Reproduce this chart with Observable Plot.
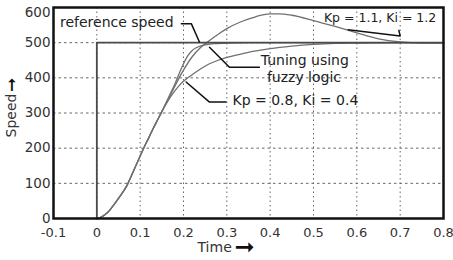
<!DOCTYPE html>
<html>
<head>
<meta charset="utf-8">
<script src="https://cdn.jsdelivr.net/npm/d3@7"></script>
<script src="https://cdn.jsdelivr.net/npm/@observablehq/plot@0.6"></script>
<style>
  html, body { margin: 0; padding: 0; background: white; }
</style>
</head>
<body>
<div id="chart"></div>
<script>
// ---- data ----
const xTicks = [-0.1, 0, 0.1, 0.2, 0.3, 0.4, 0.5, 0.6, 0.7, 0.8];
const yTicks = [0, 100, 200, 300, 400, 500, 600];

const refTime  = [0, 0, 0.8];
const refSpeed = [0, 500, 500];

const riseTime  = [0, 0.01, 0.02, 0.03, 0.04, 0.05, 0.06, 0.07, 0.08, 0.09, 0.10, 0.11, 0.12, 0.13, 0.14, 0.15];
const riseSpeed = [0, 4, 12, 24, 40, 57, 75, 95, 122, 150, 178, 205, 230, 256, 280, 304];

const fuzzyTime  = [0.16, 0.17, 0.18, 0.19, 0.20, 0.21, 0.22, 0.23, 0.24, 0.25, 0.27, 0.30, 0.35, 0.8];
const fuzzySpeed = [330, 356, 382, 412, 440, 463, 478, 486, 491, 494, 497, 499, 500, 500];

const k11Time  = [0.16, 0.17, 0.18, 0.19, 0.20, 0.22, 0.24, 0.26, 0.28, 0.30, 0.33, 0.36, 0.38, 0.40, 0.42, 0.45, 0.50, 0.55, 0.60, 0.65, 0.70, 0.75, 0.80];
const k11Speed = [328, 352, 376, 400, 422, 460, 487, 506, 524, 540, 558, 571, 578, 582, 582, 578, 563, 546, 528, 511, 502, 499, 499];

const k08Time  = [0.16, 0.17, 0.18, 0.19, 0.20, 0.21, 0.22, 0.24, 0.26, 0.28, 0.30, 0.33, 0.36, 0.40, 0.45, 0.50, 0.55, 0.60, 0.70, 0.80];
const k08Speed = [326, 346, 363, 378, 390, 400, 409, 426, 440, 450, 458, 467, 475, 483, 490, 495, 498, 499, 500, 500];

// annotation labels and leader lines (data units)
const labelText  = ["reference speed", "Tuning using", "fuzzy logic", "Kp = 0.8, Ki = 0.4"];
const labelTime  = [-0.085, 0.480, 0.478, 0.313];
const labelSpeed = [557, 449, 401, 335];
const labelAlign = ["start", "middle", "middle", "start"];
const k11Label = {text: "Kp = 1.1, Ki = 1.2", t: 0.524, s: 570};

const leaderId    = ["ref","ref","ref", "fz","fz","fz", "k08","k08","k08", "k11","k11","k11"];
const leaderTime  = [0.195, 0.218, 0.237, 0.26, 0.306, 0.375, 0.206, 0.26, 0.298, 0.58, 0.70, 0.697];
const leaderSpeed = [554, 554, 501, 487, 430, 430, 388, 331, 331, 537, 519, 535];

// ---- build tables ----
const zip = (ts, ss) => ts.map((t, i) => ({t, s: ss[i]}));
const fuzzy = zip(riseTime.concat(fuzzyTime), riseSpeed.concat(fuzzySpeed));
const k11 = zip(riseTime.concat(k11Time), riseSpeed.concat(k11Speed));
const k08 = zip(riseTime.concat(k08Time), riseSpeed.concat(k08Speed));
const ref = zip(refTime, refSpeed);
const labels = labelText.map((text, i) => ({text, t: labelTime[i], s: labelSpeed[i], a: labelAlign[i]}));
const leaders = leaderId.map((id, i) => ({id, t: leaderTime[i], s: leaderSpeed[i]}));

const curveStyle = {x: "t", y: "s", stroke: "#707070", strokeWidth: 1.3, curve: "monotone-x"};
const ARROW = "\u279E";
const yMax = yTicks[yTicks.length - 1];

const chart = Plot.plot({
  width: 453,
  height: 260,
  marginLeft: 53,
  marginRight: 10,
  marginTop: 7,
  marginBottom: 42,
  x: {domain: [-0.1, 0.8]},
  y: {domain: [0, 600]},
  style: {fontFamily: "'DejaVu Sans', sans-serif", fontSize: "13.5px", color: "#333", background: "white"},
  marks: [
    Plot.gridX(xTicks, {stroke: "#666", strokeOpacity: 1, strokeWidth: 1, strokeDasharray: "1.5,3"}),
    Plot.gridY(yTicks, {stroke: "#666", strokeOpacity: 1, strokeWidth: 1, strokeDasharray: "2.5,3"}),
    Plot.axisX(xTicks, {tickSize: 0, tickPadding: 9, label: null, tickFormat: d => String(d), fill: "#333", fontSize: 13}),
    Plot.axisY(yTicks.filter(v => v < yMax), {tickSize: 0, tickPadding: 3, label: null, tickFormat: d => String(d), fill: "#333"}),
    Plot.axisY([yMax], {tickSize: 0, tickPadding: 3, label: null, tickFormat: d => String(d), fill: "#333", dy: 5}),
    Plot.line(k08, curveStyle),
    Plot.line(fuzzy, curveStyle),
    Plot.line(k11, curveStyle),
    Plot.line(ref, {x: "t", y: "s", stroke: "#4a4a4a", strokeWidth: 1.8}),
    Plot.line(leaders, {x: "t", y: "s", z: "id", stroke: "#111", strokeWidth: 1.5}),
    Plot.frame({stroke: "#111", strokeWidth: 2.5}),
    Plot.text(labels, {x: "t", y: "s", text: "text", textAnchor: "start", filter: d => d.a === "start", fontSize: 14, fill: "#222"}),
    Plot.text(labels, {x: "t", y: "s", text: "text", textAnchor: "middle", filter: d => d.a === "middle", fontSize: 14, fill: "#222"}),
    Plot.text([k11Label], {x: "t", y: "s", text: "text", textAnchor: "start", fontSize: 12.5, fill: "#222"}),
    Plot.text(["Time"], {frameAnchor: "bottom", lineAnchor: "middle", textAnchor: "start", dx: -51, dy: 29, fontSize: 14, fill: "#333"}),
    Plot.text([ARROW], {frameAnchor: "bottom", lineAnchor: "middle", textAnchor: "start", dx: -14, dy: 29, fontSize: 24, fill: "#111"}),
    Plot.text(["Speed"], {frameAnchor: "left", lineAnchor: "middle", textAnchor: "start", rotate: -90, dx: -42, dy: 24.5, fontSize: 14, fill: "#333"}),
    Plot.text([ARROW], {frameAnchor: "left", lineAnchor: "middle", textAnchor: "start", rotate: -90, dx: -42, dy: -21, fontSize: 17, fill: "#111"})
  ]
});
document.getElementById("chart").appendChild(chart);
</script>
</body>
</html>
